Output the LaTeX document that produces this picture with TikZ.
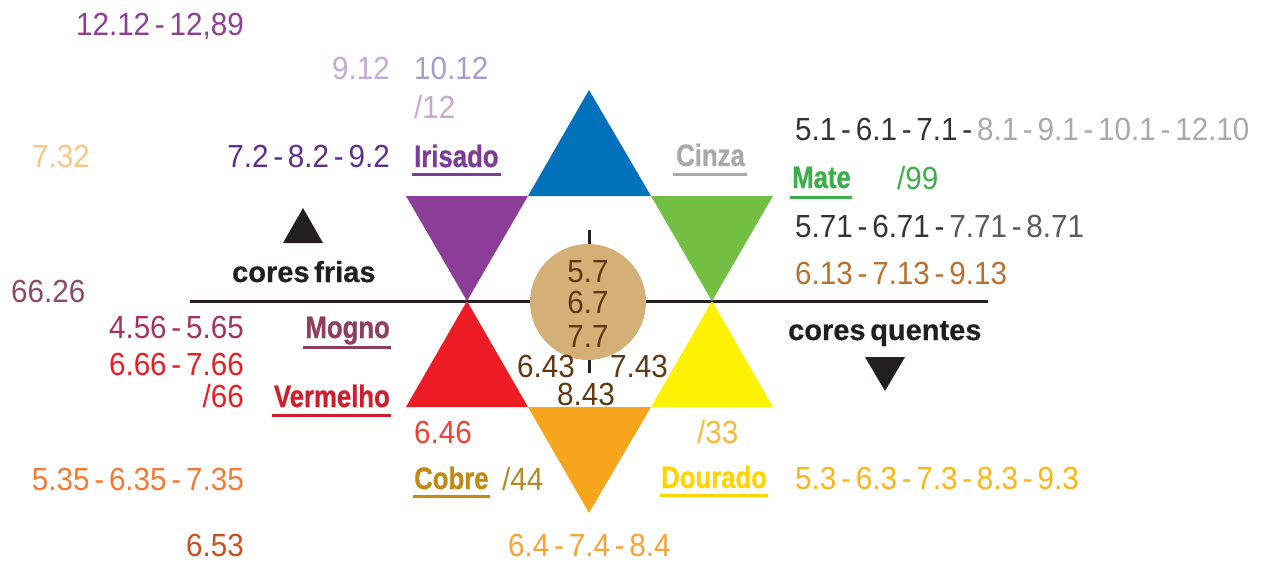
\documentclass[tikz,border=0pt]{standalone}
\usepackage{fontspec}
\setmainfont{Liberation Sans}[FakeStretch=0.926,WordSpace=0.58]
\newfontfamily\labfont{Liberation Sans}[FakeStretch=0.83,BoldFeatures={FakeBold=0.8}]
\newfontfamily\corefont{Liberation Sans}[WordSpace=0.58,BoldFeatures={FakeBold=0.6}]
\usetikzlibrary{calc}
\definecolor{ink}{HTML}{231F20}
\definecolor{cblue}{HTML}{0072BC}
\definecolor{cpurple}{HTML}{8B3D97}
\definecolor{cgreen}{HTML}{72BF44}
\definecolor{cred}{HTML}{ED1C24}
\definecolor{cyellow}{HTML}{FFF200}
\definecolor{corange}{HTML}{F7A51D}
\definecolor{ctan}{HTML}{D4AF76}
\definecolor{cbrown}{HTML}{603913}
\definecolor{tpurple}{HTML}{8E3E97}
\definecolor{tlilac}{HTML}{C3A9D3}
\definecolor{tlav}{HTML}{A99BCB}
\definecolor{tpeach}{HTML}{FBC585}
\definecolor{tdpurple}{HTML}{5E2F8C}
\definecolor{tirisado}{HTML}{7D3C98}
\definecolor{tgrey}{HTML}{A7A9AC}
\definecolor{tdark}{HTML}{333333}
\definecolor{tmid}{HTML}{58595B}
\definecolor{tgreen}{HTML}{3DAE49}
\definecolor{tcopper}{HTML}{B8702F}
\definecolor{tmauve}{HTML}{8E4A6B}
\definecolor{tcrimson}{HTML}{A73160}
\definecolor{tmogno}{HTML}{8E3F5F}
\definecolor{tred}{HTML}{ED1C24}
\definecolor{tverm}{HTML}{CF1F2E}
\definecolor{tredor}{HTML}{EF4136}
\definecolor{tgold}{HTML}{FDB933}
\definecolor{torange}{HTML}{F47A31}
\definecolor{tcobre}{HTML}{C18B13}
\definecolor{tslash}{HTML}{B5892A}
\definecolor{tdourado}{HTML}{FFD400}
\definecolor{tyelor}{HTML}{FDB515}
\definecolor{trust}{HTML}{C4531F}
\definecolor{tlorange}{HTML}{F7A234}
\begin{document}
\begin{tikzpicture}[x=1pt,y=-1pt,
  num/.style={inner sep=0pt, font=\fontsize{32}{36}\selectfont},
  lab/.style={inner sep=0pt, font=\labfont\bfseries\fontsize{31}{36}\selectfont},
  core/.style={inner sep=0pt, text=ink, font=\corefont\bfseries\fontsize{29}{34}\selectfont},
  uline/.style={line width=3pt},
  tick/.style={draw=ink, line width=3pt}]
\useasboundingbox (0,0) rectangle (1261,565);
% axis line
\coordinate (axL) at (190,301.5);
\coordinate (axR) at (988,301.5);
\draw[ink, line width=3.5pt] (axL) -- (axR);
% star triangles
\fill[cblue]   (589,90)  -- (651,196) -- (528,196) -- cycle;
\fill[cpurple] (406,196) -- (528,196) -- (467,301) -- cycle;
\fill[cgreen]  (651,196) -- (773,196) -- (712,301) -- cycle;
\fill[cred]    (467,301) -- (528,407) -- (406,407) -- cycle;
\fill[cyellow] (712,301) -- (773,407) -- (651,407) -- cycle;
\fill[corange] (528,407) -- (651,407) -- (589,513) -- cycle;
% centre
\coordinate (tkA) at (589,230);
\coordinate (tkB) at (589,246);
\coordinate (tkC) at (589,358);
\coordinate (tkD) at (589,373);
\draw[tick] (tkA) -- (tkB);
\draw[tick] (tkC) -- (tkD);
\node[circle, fill=ctan, minimum size=116pt, inner sep=0pt] (hub) at (588,302) {};
\node[num, text=cbrown, anchor=base] (c57) at (588,282) {5.7};
\node[num, text=cbrown, anchor=base] (c67) at (588,313) {6.7};
\node[num, text=cbrown, anchor=base] (c77) at (588,347) {7.7};
\node[num, text=cbrown, anchor=base] (c643) at (546,377) {6.43};
\node[num, text=cbrown, anchor=base] (c743) at (639,377) {7.43};
\node[num, text=cbrown, anchor=base] (c843) at (586,405) {8.43};
% black markers
\fill[ink] (303,208) -- (323,243) -- (283,243) -- cycle;
\fill[ink] (865,357) -- (905,357) -- (885,391) -- cycle;
\node[core, anchor=base west] (frias) at (232,282) {cores frias};
\node[core, anchor=base west] (quentes) at (788,340) {cores quentes};
% numbers
\node[num, text=tpurple, anchor=base east] (n1212) at (244,35) {12.12 - 12,89};
\node[num, text=tlilac, anchor=base east] (n912) at (390,79) {9.12};
\node[num, text=tlav, anchor=base west] (n1012) at (414,79) {10.12};
\node[num, text=tlilac, anchor=base west] (n12) at (414,118) {/12};
\node[num, text=tpeach, anchor=base west] (n732) at (32,167) {7.32};
\node[num, text=tdpurple, anchor=base east] (n72) at (390,167) {7.2 - 8.2 - 9.2};
\node[num, anchor=base west] (n51) at (795,140) {\textcolor{tdark}{5.1 - 6.1 - 7.1 - }\textcolor{tgrey}{8.1 - 9.1 - 10.1 - 12.10}};
\node[num, text=tgreen, anchor=base west] (n99) at (897,189) {/99};
\node[num, anchor=base west] (n571) at (795,237) {\textcolor{tdark}{5.71 - 6.71 - }\textcolor{tmid}{7.71 - 8.71}};
\node[num, text=tcopper, anchor=base west] (n613) at (795,284) {6.13 - 7.13 - 9.13};
\node[num, text=tmauve, anchor=base west] (n6626) at (11,302) {66.26};
\node[num, text=tcrimson, anchor=base east] (n456) at (244,338) {4.56 - 5.65};
\node[num, text=tred, anchor=base east] (n666) at (244,375) {6.66 - 7.66};
\node[num, text=tred, anchor=base east] (n66) at (244,407) {/66};
\node[num, text=tredor, anchor=base west] (n646) at (414,443) {6.46};
\node[num, text=tgold, anchor=base west] (n33) at (697,443) {/33};
\node[num, text=torange, anchor=base east] (n535) at (244,490) {5.35 - 6.35 - 7.35};
\node[num, text=tslash, anchor=base west] (n44) at (502,490) {/44};
\node[num, text=tyelor, anchor=base west] (n53) at (795,489) {5.3 - 6.3 - 7.3 - 8.3 - 9.3};
\node[num, text=trust, anchor=base east] (n653) at (244,556) {6.53};
\node[num, text=tlorange, anchor=base west] (n64) at (508,556) {6.4 - 7.4 - 8.4};
% labels
\node[lab, text=tirisado, anchor=base west] (iri) at (414,167) {Irisado};
\node[lab, text=tgrey, anchor=base west] (cin) at (676,166) {Cinza};
\node[lab, text=tgreen, anchor=base west] (mat) at (792,188) {Mate};
\node[lab, text=tmogno, anchor=base east] (mog) at (390,338) {Mogno};
\node[lab, text=tverm, anchor=base east] (ver) at (390,407) {Vermelho};
\node[lab, text=tcobre, anchor=base west] (cob) at (414,489) {Cobre};
\node[lab, text=tdourado, anchor=base west] (dou) at (661,488) {Dourado};
\draw[uline, tirisado] ($(iri.base west)+(-2,7)$) -- ($(iri.base east)+(2,7)$);
\draw[uline, tgrey] ($(cin.base west)+(-3,8)$) -- ($(cin.base east)+(2,8)$);
\draw[uline, tgreen] ($(mat.base west)+(-2,9)$) -- ($(mat.base east)+(1,9)$);
\draw[uline, tmogno] ($(mog.base west)+(-2,9)$) -- ($(mog.base east)+(1,9)$);
\draw[uline, tverm] ($(ver.base west)+(-2,8)$) -- ($(ver.base east)+(1,8)$);
\draw[uline, tcobre] ($(cob.base west)+(-1,7)$) -- ($(cob.base east)+(1,7)$);
\draw[uline, tdourado] ($(dou.base west)+(-1,7)$) -- ($(dou.base east)+(1,7)$);
\end{tikzpicture}
\end{document}
